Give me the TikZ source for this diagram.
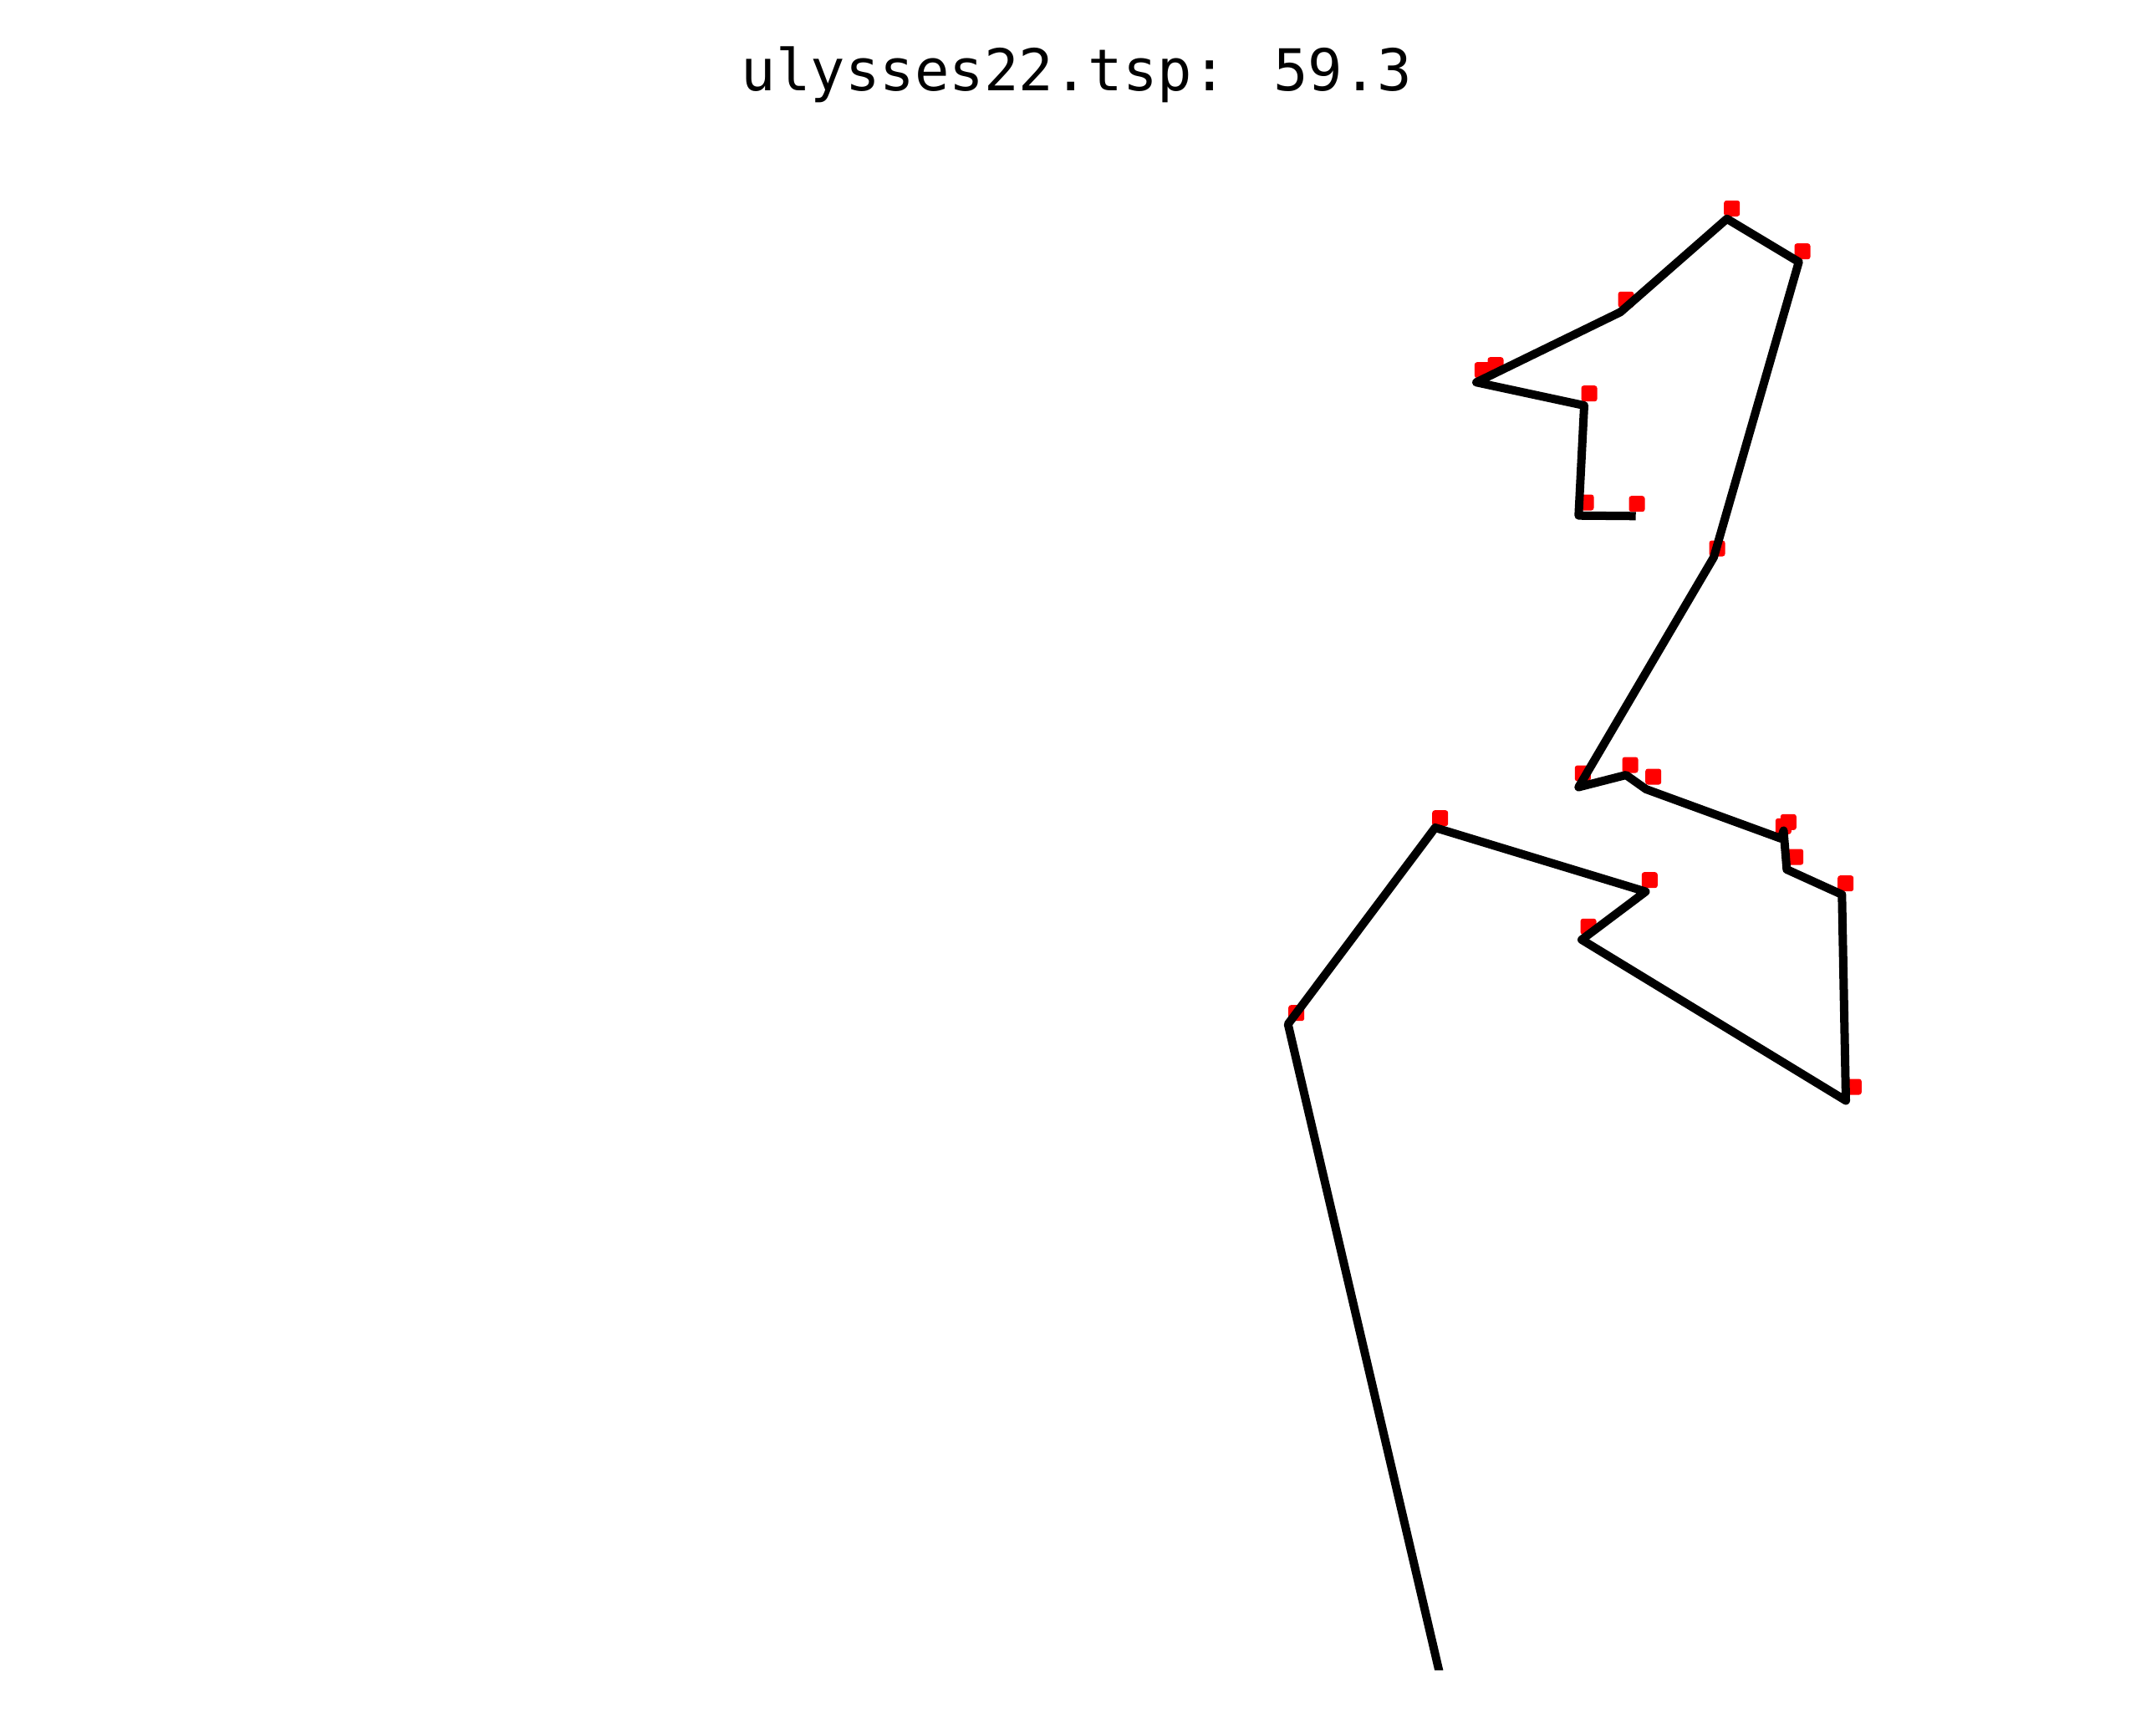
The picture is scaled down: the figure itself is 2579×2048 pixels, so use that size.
\documentclass[tikz,border=0pt]{standalone}
\usepackage{fontspec}
\newfontfamily\titlefont{DejaVu Sans Mono}
\begin{document}
\begin{tikzpicture}[x=0.01cm,y=-0.01cm,
  city/.style={rectangle, fill=red, draw=none, rounded corners=0.03cm, minimum size=0.19cm, inner sep=0pt},
  tour/.style={line width=0.1cm, black, line join=round, line cap=butt}]
\useasboundingbox (0,0) rectangle (2579,2048);
\fill[white] (0,0) rectangle (2579,2048);
\node[anchor=base, inner sep=0pt, font=\titlefont\fontsize{19.6pt}{24pt}\selectfont] (title) at (1288,108) {ulysses22.tsp: 59.3};
% cities (red markers)
\node[city] (c1) at (2071.7,249.3) {};
\node[city] (c2) at (2156,300.7) {};
\node[city] (c3) at (1945,358.3) {};
\node[city] (c4) at (1773.3,442.7) {};
\node[city] (c5) at (1789,436.7) {};
\node[city] (c6) at (1901,470.7) {};
\node[city] (c7) at (1897,601) {};
\node[city] (c8) at (1958,602.7) {};
\node[city] (c9) at (2054,656) {};
\node[city] (c10) at (1893.3,925) {};
\node[city] (c11) at (1950,915) {};
\node[city] (c12) at (1977.7,929) {};
\node[city] (c13) at (2139.3,983.3) {};
\node[city] (c14) at (2133.3,988.3) {};
\node[city] (c15) at (2147.7,1025) {};
\node[city] (c16) at (2207.7,1056.7) {};
\node[city] (c17) at (1973.3,1052.7) {};
\node[city] (c18) at (1900,1108.3) {};
\node[city] (c19) at (1722.7,978.7) {};
\node[city] (c20) at (1550.7,1211.7) {};
\node[city] (c21) at (2217.3,1300) {};
% tour vertices
\coordinate (s) at (1733.4,2050);
\coordinate (q) at (1540.7,1225);
\coordinate (p) at (1716.7,990);
\coordinate (n) at (1968.5,1066.5);
\coordinate (o) at (1892,1124);
\coordinate (r) at (2208,1316.5);
\coordinate (m) at (2203.3,1070);
\coordinate (l) at (2137.3,1040);
\coordinate (k2) at (2133.5,993.5);
\coordinate (k1) at (2130.5,1003);
\coordinate (j) at (1969,944);
\coordinate (i) at (1945,927);
\coordinate (h2) at (1888.3,941.5);
\coordinate (h) at (2050,666.5);
\coordinate (b) at (2151.7,313.3);
\coordinate (a) at (2065.7,261.7);
\coordinate (c) at (1938.3,373.3);
\coordinate (d) at (1766,457.3);
\coordinate (e) at (1895,485);
\coordinate (f) at (1888.3,616.7);
\coordinate (g) at (1956.7,617.3);
\begin{scope}
\clip (0,0) rectangle (2579,1997);
\draw[tour] (s) -- (q) -- (p) -- (n) -- (o) -- (r) -- (m) -- (l) -- (k2) -- (k1) -- (j) -- (i) -- (h2) -- (h) -- (b) -- (a) -- (c) -- (d) -- (e) -- (f) -- (g);
\end{scope}
\end{tikzpicture}
\end{document}
